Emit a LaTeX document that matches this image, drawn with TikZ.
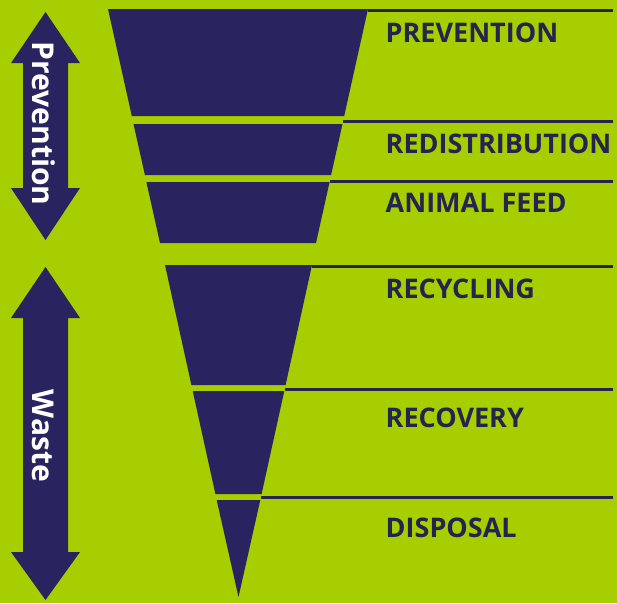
\documentclass[tikz,border=0pt]{standalone}
\usepackage{fontspec}
\setmainfont{Open Sans}
\definecolor{lime}{HTML}{A6CE00}
\definecolor{navy}{HTML}{29245F}
\definecolor{ink}{HTML}{25244F}
\begin{document}
\begin{tikzpicture}[x=1pt,y=-1pt,
  funnel/.style={fill=navy,draw=none},
  sep/.style={draw=ink,line width=3pt},
  label/.style={anchor=base west,inner sep=0pt,text=ink,font=\fontsize{27}{29}\selectfont\bfseries},
  arrowtext/.style={rotate=-90,inner sep=0pt,text=white,font=\fontsize{30}{32}\selectfont\bfseries},
  dblarrow/.style={fill=navy,draw=none}]
\fill[lime] (0,0) rectangle (617,603);
\useasboundingbox (0,0) rectangle (617,603);
% top funnel
\fill[funnel] (108,9) -- (368,9) -- (344.2,116) -- (131.8,116) -- cycle;
\fill[funnel] (133.5,124) -- (342.5,124) -- (331.1,175) -- (144.9,175) -- cycle;
\fill[funnel] (146.4,182) -- (329.6,182) -- (316,243) -- (160,243) -- cycle;
% bottom funnel
\fill[funnel] (165,265) -- (312,265) -- (285.6,385) -- (191.4,385) -- cycle;
\fill[funnel] (192.7,391) -- (284.3,391) -- (261.6,494) -- (215.4,494) -- cycle;
\fill[funnel] (216.7,500) -- (260.3,500) -- (238.5,597) -- cycle;
% separator lines
\coordinate (l1a) at (368,10.5);  \coordinate (l1b) at (613,10.5);
\coordinate (l2a) at (343,121.5); \coordinate (l2b) at (613,121.5);
\coordinate (l3a) at (330,181);   \coordinate (l3b) at (613,181);
\coordinate (l4a) at (312,266);   \coordinate (l4b) at (613,266);
\coordinate (l5a) at (285,389);   \coordinate (l5b) at (613,389);
\coordinate (l6a) at (261,497);   \coordinate (l6b) at (613,497);
\foreach \i in {1,...,6} {\draw[sep] (l\i a) -- (l\i b);}
% labels
\node[label] (prev) at (385.5,42) {PREVENTION};
\node[label] (redis) at (385.5,153) {REDISTRIBUTION};
\node[label] (feed) at (385.5,212) {ANIMAL FEED};
\node[label] (recyc) at (385.5,298) {RECYCLING};
\node[label] (recov) at (385.5,427) {RECOVERY};
\node[label] (disp) at (385.5,537) {DISPOSAL};
% double arrows
\fill[dblarrow] (45.5,12) -- (80,63) -- (68,63) -- (68,188) -- (80,188) -- (45.5,240)
  -- (11,188) -- (23,188) -- (23,63) -- (11,63) -- cycle;
\fill[dblarrow] (45.5,267) -- (80,318) -- (68,318) -- (68,552) -- (80,552) -- (45.5,600)
  -- (11,552) -- (23,552) -- (23,318) -- (11,318) -- cycle;
\node[arrowtext] (ptext) at (43.5,123.5) {Prevention};
\node[arrowtext] (wtext) at (43.5,436) {Waste};
\end{tikzpicture}
\end{document}
